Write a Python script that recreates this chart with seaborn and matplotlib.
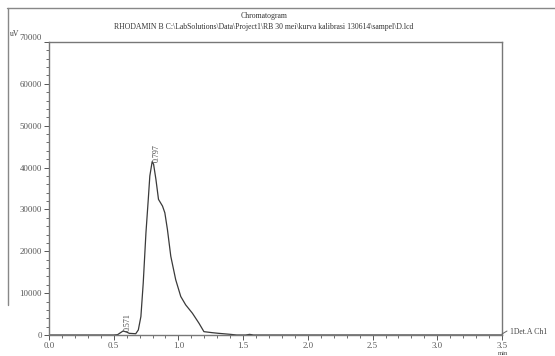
import numpy as np
import pandas as pd
import matplotlib
matplotlib.use("Agg")
import matplotlib.pyplot as plt
from matplotlib.lines import Line2D
from matplotlib.ticker import MultipleLocator
import seaborn as sns

# ---- data ----
time_min = [0.00, 0.50, 0.53, 0.55, 0.572, 0.60, 0.62, 0.67, 0.69, 0.71, 0.728,
            0.749, 0.767, 0.779, 0.797, 0.808, 0.826, 0.846, 0.877, 0.895, 0.915,
            0.941, 0.979, 1.018, 1.056, 1.108, 1.159, 1.197, 1.26, 1.31, 1.40,
            1.45, 1.52, 1.55, 1.58, 3.50]
signal_uv = [0, 0, 80, 500, 950, 700, 400, 300, 1200, 4400, 12400,
             24400, 32400, 38000, 41400, 40800, 37200, 32400, 30800, 29200, 25200,
             18800, 13200, 9200, 7200, 5200, 2800, 800, 560, 400, 160,
             0, 0, 150, 0, 0]
peak_times = [0.571, 0.797]
peak_heights = [950, 41400]
peak_labels = ["0.571", "0.797"]
title_line1 = "Chromatogram"
title_line2 = "RHODAMIN B C:\\LabSolutions\\Data\\Project1\\RB 30 mei\\kurva kalibrasi 130614\\sampel\\D.lcd"
x_ticks = [0.0, 0.5, 1.0, 1.5, 2.0, 2.5, 3.0, 3.5]
y_ticks = [0, 10000, 20000, 30000, 40000, 50000, 60000, 70000]

df = pd.DataFrame({"time": time_min, "signal": signal_uv})

sns.set_theme(style="white")
plt.rcParams["font.family"] = ["Liberation Serif", "DejaVu Serif"]

W, H = 555, 356
fig = plt.figure(figsize=(W / 100, H / 100), dpi=100)
ax = fig.add_axes([49 / W, 1 - 335 / H, (502 - 49) / W, (335 - 42) / H])

sns.lineplot(data=df, x="time", y="signal", ax=ax, color="#3a3a3a", linewidth=0.9)

ax.set_xlim(0, 3.5)
ax.set_ylim(0, 70000)
ax.set_xticks(x_ticks)
ax.set_xticklabels([f"{t:.1f}" for t in x_ticks])
ax.set_yticks(y_ticks)
ax.set_yticklabels([str(v) for v in y_ticks])
ax.xaxis.set_minor_locator(MultipleLocator(0.1))
ax.yaxis.set_minor_locator(MultipleLocator(2000))
ax.set_xlabel("")
ax.set_ylabel("")

gray = "#777777"
for s in ax.spines.values():
    s.set_visible(True)
    s.set_color(gray)
    s.set_linewidth(1.0)

ax.tick_params(axis="both", which="major", direction="out", length=3.5, width=0.7,
               colors="#555555", labelsize=6.3, pad=1.5, bottom=True, left=True)
ax.tick_params(axis="both", which="minor", direction="out", length=2, width=0.6,
               colors="#555555", bottom=True, left=True)
ax.tick_params(axis="x", which="major", pad=1.5)
for lab in ax.get_xticklabels() + ax.get_yticklabels():
    lab.set_color("#555555")
ax.get_yticklabels()[-1].set_verticalalignment("bottom")

# peak labels
for t, h, lab in zip(peak_times, peak_heights, peak_labels):
    ax.annotate(lab, xy=(t, h), xytext=(3.5, 0), textcoords="offset points",
                rotation=90, ha="center", va="bottom", fontsize=5.8, color="#444444")

# titles
fig.text(264 / W, 1 - 16 / H, title_line1, ha="center", va="center", fontsize=5.6, color="#333333")
fig.text(264 / W, 1 - 27 / H, title_line2, ha="center", va="center", fontsize=5.6, color="#333333")
fig.text(10 / W, 1 - 38 / H, "uV", ha="left", va="bottom", fontsize=5.6, color="#444444")
fig.text(503 / W, 1 - 353.5 / H, "min", ha="center", va="center", fontsize=4.8, color="#444444")
fig.text(510 / W, 1 - 332 / H, "1Det.A Ch1", ha="left", va="center", fontsize=5.6, color="#444444")

# outer frame and connector
fig.add_artist(Line2D([7 / W, 1.0], [1 - 8 / H, 1 - 8 / H], transform=fig.transFigure,
                      color="#888888", linewidth=1.0))
fig.add_artist(Line2D([8 / W, 8 / W], [1 - 8 / H, 1 - 305 / H], transform=fig.transFigure,
                      color="#888888", linewidth=1.0))
fig.add_artist(Line2D([502 / W, 507 / W], [1 - 334 / H, 1 - 331 / H], transform=fig.transFigure,
                      color="#666666", linewidth=0.7))

fig.savefig("out.png", dpi=100, facecolor="white")
